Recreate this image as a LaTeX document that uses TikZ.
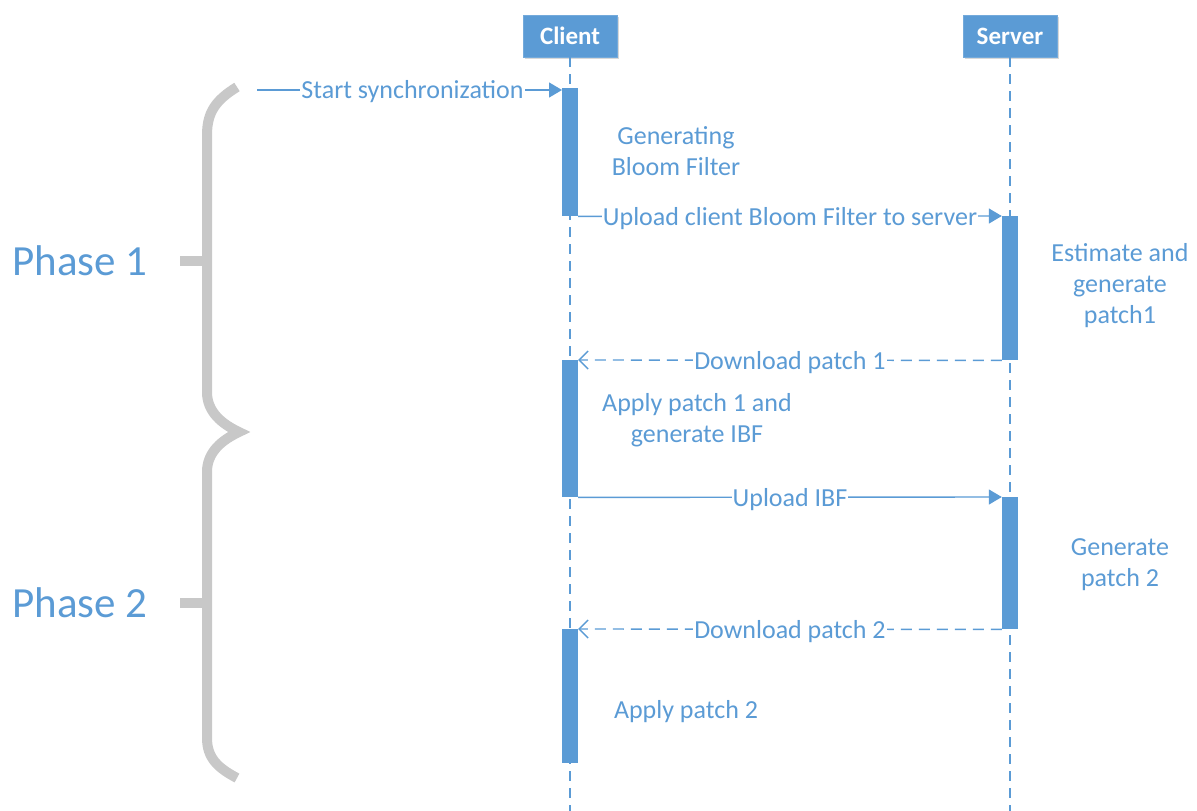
\documentclass[tikz,border=0pt]{standalone}
\usepackage{fontspec}
\setmainfont{Carlito}
\usetikzlibrary{arrows.meta,shadows}
\definecolor{umlblue}{HTML}{5B9BD5}
\definecolor{bracegray}{HTML}{C8C8C8}
\tikzset{
  header/.style={rectangle, fill=umlblue, draw=umlblue!85!white, line width=0.8pt,
    minimum width=94pt, minimum height=42pt, text=white, font=\fontsize{25}{30}\selectfont\bfseries,
    drop shadow={shadow xshift=2pt, shadow yshift=-2pt, fill=black!30, opacity=0.5}},
  lifeline/.style={umlblue, line width=1.4pt, dash pattern=on 10pt off 7pt},
  activation/.style={rectangle, fill=umlblue, draw=none, minimum width=16pt, inner sep=0pt, anchor=north},
  msg/.style={umlblue, line width=1.4pt, -{Triangle[length=13pt,width=15pt]}},
  reply/.style={umlblue, line width=1.4pt, dash pattern=on 11pt off 7pt, -{Straight Barb[length=9pt,width=18pt,line width=1.4pt]}},
  msglabel/.style={fill=white, text=umlblue, inner xsep=1pt, inner ysep=0pt, yshift=-2pt, font=\fontsize{26}{31}\selectfont},
  note/.style={text=umlblue, align=center, font=\fontsize{26}{31}\selectfont, inner sep=0pt},
  phase/.style={text=umlblue, font=\fontsize{43}{50}\selectfont, inner sep=0pt},
  brace/.style={bracegray, line width=10pt}
}
\begin{document}
\begin{tikzpicture}[x=1pt,y=-1pt]
\useasboundingbox (0,0) rectangle (1197,811);

% participants
\node[header] (client) at (570,36) {Client};
\node[header] (server) at (1010,36) {Server};
\coordinate (clientend) at (570,811);
\coordinate (serverend) at (1010,811);
\draw[lifeline] (client.south) -- (clientend);
\draw[lifeline] (server.south) -- (serverend);

% activation bars
\node[activation, minimum height=128pt] (cb1) at (570,88) {};
\node[activation, minimum height=144pt] (sb1) at (1010,216) {};
\node[activation, minimum height=137pt] (cb2) at (570,360) {};
\node[activation, minimum height=132pt] (sb2) at (1010,497) {};
\node[activation, minimum height=134pt] (cb3) at (570,629) {};

% messages
\coordinate (start) at (257,90);
\coordinate (cb1in) at (562,90);
\draw[msg] (start) -- node[msglabel, pos=0.51] {Start synchronization} (cb1in);
\draw[msg] (cb1.south east) -- node[msglabel] {Upload client Bloom Filter to server} (sb1.north west);
\draw[reply] (sb1.south west) -- node[msglabel] {Download patch 1} (cb2.north east);
\draw[msg] (cb2.south east) -- node[msglabel] {Upload IBF} (sb2.north west);
\draw[reply] (sb2.south west) -- node[msglabel] {Download patch 2} (cb3.north east);

% activity notes
\node[note] (n1) at (676,151) {Generating\\Bloom Filter};
\node[note] (n2) at (1120,286) {Estimate and\\generate\\patch1};
\node[note] (n3) at (697,420) {Apply patch 1 and\\generate IBF};
\node[note] (n4) at (1120,565) {Generate\\patch 2};
\node[note] (n5) at (686,712) {Apply patch 2};

% phase braces
\draw[brace] (237,87) .. controls (216,100) and (207,112) .. (207,135)
  -- (207,392) .. controls (207,412) and (222,424) .. (239,432)
  .. controls (222,440) and (207,452) .. (207,472)
  -- (207,738) .. controls (207,758) and (218,768) .. (237,778);
\draw[brace] (180,261) -- (207,261);
\draw[brace] (180,603) -- (207,603);

\node[phase] (p1) at (80,261) {Phase 1};
\node[phase] (p2) at (80,603) {Phase 2};
\end{tikzpicture}
\end{document}
